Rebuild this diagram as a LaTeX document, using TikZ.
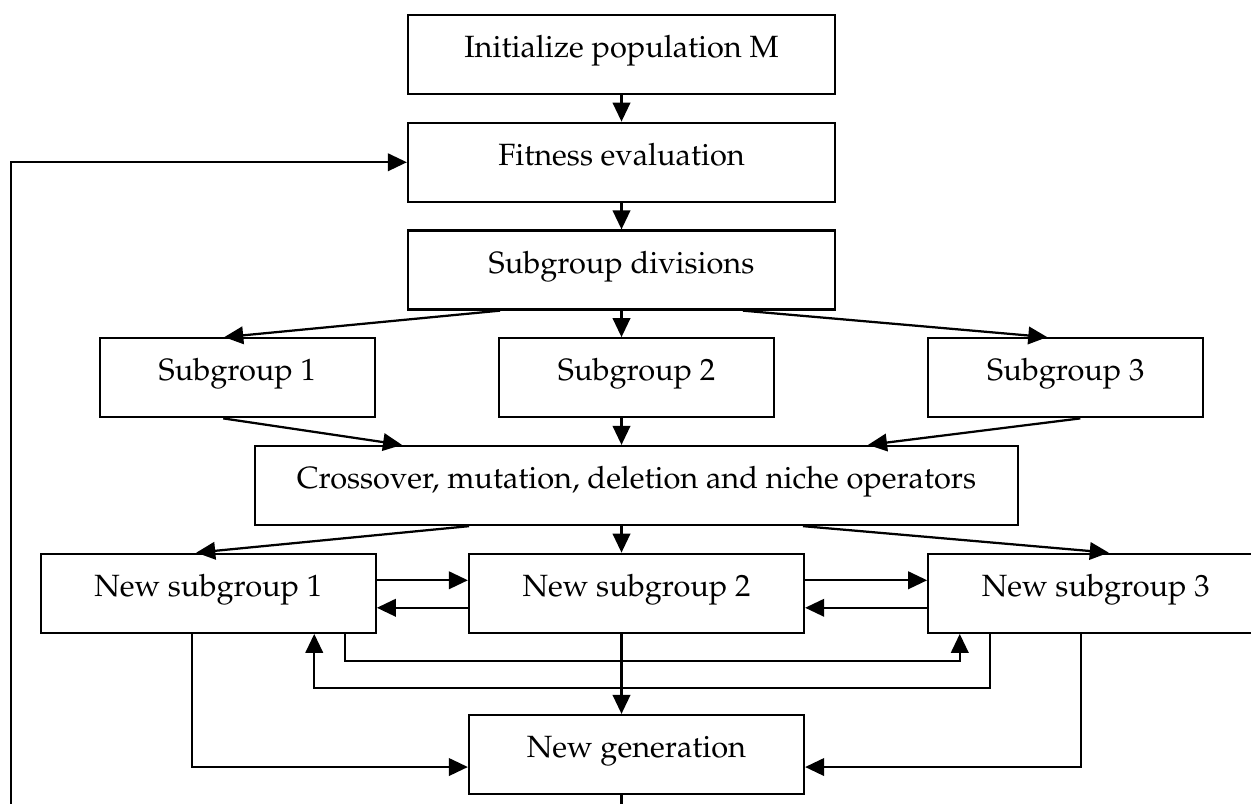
\documentclass[tikz,border=0pt]{standalone}
\usepackage[T1]{fontenc}
\usepackage{mathpazo}
\usetikzlibrary{arrows.meta,positioning}

\begin{document}
\begin{tikzpicture}[
    x=0.4pt, y=-0.4pt,
    node distance=10.6pt and 48.8pt,
    box/.style={
        draw,
        line width=0.9pt,
        inner sep=0pt,
        minimum height=31.6pt,
        text height=8.2pt,
        text depth=5.8pt,
        font=\fontsize{12.3}{14}\selectfont
    },
    midbox/.style={box, minimum width=170.8pt},
    subbox/.style={box, minimum width=110pt},
    newbox/.style={box, minimum width=134pt},
    arrow/.style={-{Triangle[length=7.6pt,width=7pt]}, line width=0.9pt}
]
\useasboundingbox (0,0) rectangle (1251,803);

\node[midbox] (init) at (621.5,54.5) {Initialize population M};
\node[midbox, below=of init] (fitness) {Fitness evaluation};
\node[midbox, below=of fitness] (divide) {Subgroup divisions};
\node[subbox, below=of divide, xshift=6pt] (sub2) {Subgroup 2};
\node[subbox, left=of sub2] (sub1) {Subgroup 1};
\node[subbox, right=60.8pt of sub2] (sub3) {Subgroup 3};
\node[box, minimum width=305.2pt, below=of sub2] (ops) {Crossover, mutation, deletion and niche operators};
\node[newbox, below=of ops] (new2) {New subgroup 2};
\node[newbox, left=36.4pt of new2] (new1) {New subgroup 1};
\node[newbox, right=48.8pt of new2] (new3) {New subgroup 3};
\node[newbox, below=32pt of new2] (gen) {New generation};

\draw[arrow] (init) -- (fitness);
\draw[arrow] (fitness) -- (divide);
\draw[arrow] (divide.south) -- (divide.south |- sub2.north);
\draw[arrow] ([xshift=-48.6pt]divide.south) -- ([xshift=-5.2pt]sub1.north);
\draw[arrow] ([xshift=48.6pt]divide.south) -- ([xshift=-7.4pt]sub3.north);
\draw[arrow] ([xshift=-5.6pt]sub1.south) -- ([xshift=-93.8pt]ops.north);
\draw[arrow] (sub2.south -| init.south) -- (ops.north -| init.south);
\draw[arrow] ([xshift=5.8pt]sub3.south) -- ([xshift=92.6pt]ops.north);
\draw[arrow] ([xshift=-67pt]ops.south) -- ([xshift=-4.8pt]new1.north);
\draw[arrow] (ops.south -| init.south) -- (new2.north -| init.south);
\draw[arrow] ([xshift=66.6pt]ops.south) -- ([xshift=5.2pt]new3.north);

% exchange between the new subgroups
\draw[arrow] ([yshift=5.2pt]new1.east) -- ([yshift=5.2pt]new1.east -| new2.west);
\draw[arrow] ([yshift=-5.8pt]new2.west) -- ([yshift=-5.8pt]new2.west -| new1.east);
\draw[arrow] ([yshift=5.2pt]new2.east) -- ([yshift=5.2pt]new2.east -| new3.west);
\draw[arrow] ([yshift=-5.8pt]new3.west) -- ([yshift=-5.8pt]new3.west -| new2.east);
\draw[arrow] ([xshift=54.8pt]new1.south) -- ++(0pt,-10.8pt) -| ([xshift=-54.4pt]new3.south);
\draw[arrow] ([xshift=-42.4pt]new3.south) -- ++(0pt,-21.6pt) -| ([xshift=42.4pt]new1.south);

\draw[arrow] ([xshift=-6.4pt]new1.south) |- ([yshift=-5pt]gen.west);
\draw[arrow] ([xshift=-6pt]new3.south) |- ([yshift=-5pt]gen.east);
\draw[arrow] (new2.south -| init.south) -- (gen.north -| init.south);

% back to the fitness evaluation
\draw[arrow] (gen.south -| init.south) -- ++(0pt,-14pt) -| ([xshift=-158.4pt]fitness.west) -- (fitness.west);
\end{tikzpicture}
\end{document}
